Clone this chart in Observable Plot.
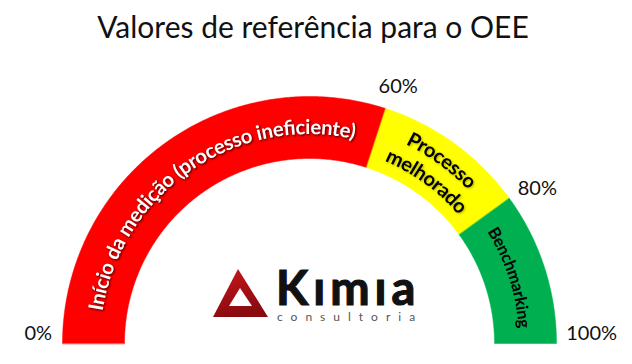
<!DOCTYPE html>
<html><head><meta charset="utf-8">
<script src="https://cdn.jsdelivr.net/npm/d3@7"></script>
<script src="https://cdn.jsdelivr.net/npm/@observablehq/plot@0.6"></script>
<style>
body{margin:0;background:#fff;width:632px;height:364px;overflow:hidden}
#title{height:58px;box-sizing:border-box;padding-top:8px;text-align:center;font:30px/1.2 Lato, sans-serif;color:#111;padding-right:6px}
#chart svg{display:block}
</style></head><body>
<div id="title">Valores de referência para o OEE</div>
<div id="chart"></div>
<script>
// ---- data ----
const categories = ["Início da medição (processo ineficiente)", "Processo melhorado", "Benchmarking"];
const labelLines = [["Início da medição (processo ineficiente)"], ["Processo", "melhorado"], ["Benchmarking"]];
const bounds = [0, 60, 80, 100];
const colors = ["#ff0000", "#ffff00", "#00b050"];
const tickLabels = ["0%", "60%", "80%", "100%"];
const brandName = "Kımıa";
const brandSub = "consultoria";

// ---- layout / style ----
const W = 632, H = 306;
const cxPx = 309, cyPx = 285, R = 247;
const inner = 185 / 247;
const ang = v => Math.PI * (1 - v / 100);
const textColors = ["#ffffff", "#000000", "#000000"];
const textSizes = [20.3, 20, 16.5];
const textOffsets = ["51.5%", "50%", "50%"];
const textShadows = ["drop-shadow(1.2px 1.6px 1.2px rgba(0,0,0,0.75))", "drop-shadow(1px 1.2px 1px rgba(0,0,0,0.3))", "none"];
const tickNudge = [[3, -10], [4, 4], [6, 6], [8, -10]];

// polygons of the gauge segments, built from the bounds
const poly = [];
categories.forEach((c, i) => {
  const v0 = bounds[i], v1 = bounds[i + 1];
  const n = Math.ceil((v1 - v0) * 4);
  for (let k = 0; k <= n; k++) { const v = v0 + (v1 - v0) * k / n; poly.push({cat: c, x: Math.cos(ang(v)), y: Math.sin(ang(v))}); }
  for (let k = n; k >= 0; k--) { const v = v0 + (v1 - v0) * k / n; poly.push({cat: c, x: inner * Math.cos(ang(v)), y: inner * Math.sin(ang(v))}); }
});

function arcLabels(index, scales) {
  const X = scales.x, Y = scales.y;
  const cx = X(0), cy = Y(0), unit = X(1) - X(0);
  const g = d3.create("svg:g");
  const defs = g.append("defs");
  const mid = (1 + inner) / 2 * unit;
  categories.forEach((c, i) => {
    const a0 = ang(bounds[i]), a1 = ang(bounds[i + 1]);
    const lines = labelLines[i];
    lines.forEach((t, k) => {
      const r = mid + ((lines.length - 1) / 2 - k) * 24;
      const id = `lp${i}_${k}`;
      const d = `M${cx + r * Math.cos(a0)},${cy - r * Math.sin(a0)} A${r},${r} 0 0 1 ${cx + r * Math.cos(a1)},${cy - r * Math.sin(a1)}`;
      defs.append("path").attr("id", id).attr("d", d);
      g.append("text")
        .attr("dy", "0.35em")
        .attr("font-family", "Lato, sans-serif")
        .attr("font-weight", 700)
        .attr("font-size", textSizes[i])
        .attr("fill", textColors[i])
        .style("filter", textShadows[i])
        .append("textPath")
        .attr("href", "#" + id)
        .attr("startOffset", textOffsets[i])
        .attr("text-anchor", "middle")
        .text(t);
    });
  });
  return g.node();
}

function logo(index, scales) {
  const cx = scales.x(0), cy = scales.y(0);
  const g = d3.create("svg:g").attr("text-anchor", "start");
  const defs = g.append("defs");
  const grad = defs.append("linearGradient").attr("id", "lg").attr("x1", 0).attr("y1", 0).attr("x2", 0.3).attr("y2", 1);
  grad.append("stop").attr("offset", 0).attr("stop-color", "#c8161d");
  grad.append("stop").attr("offset", 1).attr("stop-color", "#8a0b0f");
  const P = pts => pts.map(([a, b]) => `${cx + a},${cy + b}`).join(" ");
  g.append("polygon").attr("points", P([[-71, -74], [-96, -26], [-41, -26]])).attr("fill", "url(#lg)");
  g.append("polygon").attr("points", P([[-69, -55], [-80, -37], [-57, -37]])).attr("fill", "#fff");
  g.append("text").attr("x", cx - 33).attr("y", cy - 38)
    .attr("text-anchor", "start")
    .attr("font-family", "Lato, sans-serif").attr("font-weight", 700).attr("font-size", 47)
    .attr("letter-spacing", 5).attr("fill", "#111").attr("stroke", "#111").attr("stroke-width", 1.2)
    .text(brandName);
  g.append("text").attr("x", cx - 32).attr("y", cy - 22)
    .attr("text-anchor", "start")
    .attr("font-family", "Lato, sans-serif").attr("font-size", 12)
    .attr("letter-spacing", 8).attr("fill", "#555")
    .text(brandSub);
  return g.node();
}

const chart = Plot.plot({
  width: W, height: H,
  margin: 0,
  x: {domain: [-cxPx / R, (W - cxPx) / R], axis: null},
  y: {domain: [-(H - cyPx) / R, cyPx / R], axis: null},
  color: {domain: categories, range: colors},
  marks: [
    Plot.line(poly, {x: "x", y: "y", z: "cat", fill: "cat", stroke: "cat", strokeWidth: 0.5, curve: "linear-closed"}),
    arcLabels,
    ...tickLabels.map((t, i) => Plot.text([t], {
      x: () => 1.11 * Math.cos(ang(bounds[i])),
      y: () => 1.11 * Math.sin(ang(bounds[i])),
      text: d => d,
      dx: tickNudge[i][0], dy: tickNudge[i][1],
      fontSize: 20, fontFamily: "Lato, sans-serif", fill: "#111"
    })),
    logo
  ]
});
document.getElementById("chart").append(chart);
</script>
</body></html>
